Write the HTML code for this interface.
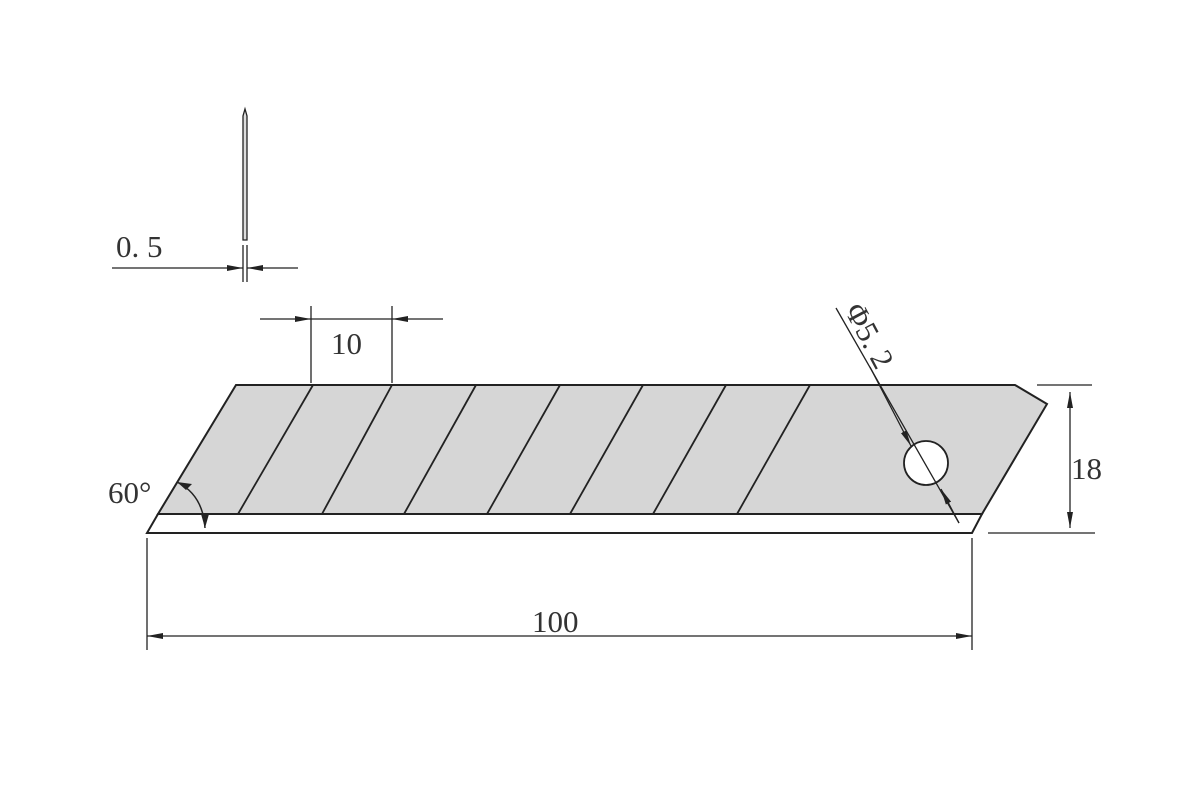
<!DOCTYPE html>
<html><head><meta charset="utf-8"><style>body{margin:0;background:#fff}svg{display:block}</style></head>
<body>
<svg width="1200" height="800" viewBox="0 0 1200 800" xmlns="http://www.w3.org/2000/svg">
<defs>
<marker id="a" markerWidth="16" markerHeight="8" refX="16" refY="4" orient="auto" markerUnits="userSpaceOnUse">
<path d="M0,1 L16,4 L0,7 Z" fill="#222"/></marker>
</defs>
<g stroke="#222" fill="none" stroke-width="1.6">
<path d="M243,240 L243,116 L245,109 L247,116 L247,240 Z" fill="#ddd" stroke-width="1.3"/>
<line x1="243" y1="245" x2="243" y2="282" stroke-width="1.3"/>
<line x1="247" y1="245" x2="247" y2="282" stroke-width="1.3"/>
<line x1="112" y1="268" x2="243" y2="268" marker-end="url(#a)" stroke-width="1.3"/>
<line x1="298" y1="268" x2="247" y2="268" marker-end="url(#a)" stroke-width="1.3"/>
<line x1="311" y1="306" x2="311" y2="383" stroke-width="1.3"/>
<line x1="392" y1="306" x2="392" y2="383" stroke-width="1.3"/>
<line x1="260" y1="319" x2="311" y2="319" marker-end="url(#a)" stroke-width="1.3"/>
<line x1="443" y1="319" x2="392" y2="319" marker-end="url(#a)" stroke-width="1.3"/>
<line x1="311" y1="319" x2="392" y2="319" stroke-width="1.3"/>
<path d="M236,385 L1015,385 L1047,404 L982,514 L158,514 Z" fill="#d6d6d6" stroke-width="2"/>
<path d="M158,514 L982,514 L972,533 L147,533 Z" fill="#fff" stroke-width="2"/>
<g stroke-width="1.8">
<line x1="313" y1="385" x2="238" y2="514"/>
<line x1="392" y1="385" x2="322" y2="514"/>
<line x1="476" y1="385" x2="404" y2="514"/>
<line x1="560" y1="385" x2="487" y2="514"/>
<line x1="643" y1="385" x2="570" y2="514"/>
<line x1="726" y1="385" x2="653" y2="514"/>
<line x1="810" y1="385" x2="737" y2="514"/>
</g>
<circle cx="926" cy="463" r="22" fill="#fff" stroke-width="1.8"/>
<line x1="836" y1="308" x2="959" y2="523" stroke-width="1.3"/>
<line x1="870" y1="367" x2="911" y2="446" marker-end="url(#a)" stroke-width="1.3"/>
<line x1="959" y1="523" x2="941" y2="489" marker-end="url(#a)" stroke-width="1.3"/>
<line x1="1037" y1="385" x2="1092" y2="385" stroke-width="1.3"/>
<line x1="988" y1="533" x2="1095" y2="533" stroke-width="1.3"/>
<line x1="1070" y1="460" x2="1070" y2="392" marker-end="url(#a)" stroke-width="1.3"/>
<line x1="1070" y1="460" x2="1070" y2="528" marker-end="url(#a)" stroke-width="1.3"/>
<line x1="147" y1="538" x2="147" y2="650" stroke-width="1.3"/>
<line x1="972" y1="538" x2="972" y2="650" stroke-width="1.3"/>
<line x1="560" y1="636" x2="147" y2="636" marker-end="url(#a)" stroke-width="1.3"/>
<line x1="560" y1="636" x2="972" y2="636" marker-end="url(#a)" stroke-width="1.3"/>
<path d="M177,482 Q203,495 205,528" stroke-width="1.5"/>
<path d="M177,482 L192,484 L186,490 Z" fill="#222" stroke="none"/>
<path d="M205,528 L201,514 L209,514 Z" fill="#222" stroke="none"/>
</g>
<g font-family="Liberation Serif, serif" fill="#333" font-size="31">
<text x="116" y="257">0. 5</text>
<text x="331" y="354">10</text>
<text x="108" y="503">60°</text>
<text x="1071" y="479">18</text>
<text x="532" y="632">100</text>
<text x="0" y="0" transform="translate(844,310) rotate(62)">Φ5. 2</text>
</g>
</svg>
</body></html>
